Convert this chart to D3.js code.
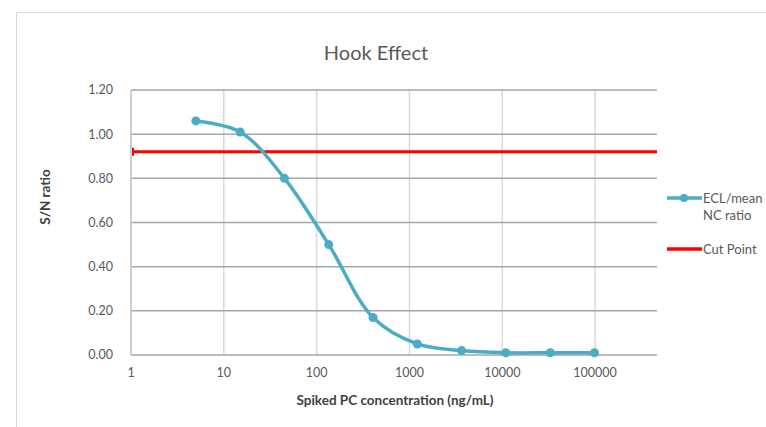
<!DOCTYPE html>
<html>
<head>
<meta charset="utf-8">
<script src="https://cdn.jsdelivr.net/npm/d3@7"></script>
<style>
  body { margin: 0; background: #fff; }
  text { font-family: Lato, 'Open Sans', sans-serif; }
</style>
</head>
<body>
<div id="chart"></div>
<script>
var concentrations = [5, 15, 45, 135, 405, 1215, 3645, 10935, 32805, 98415]
var ratios = [1.06, 1.01, 0.80, 0.50, 0.17, 0.05, 0.02, 0.01, 0.01, 0.01]
var cutPoint = 0.92
var xTicks = [1, 10, 100, 1000, 10000, 100000]
var yTicks = [0, 0.2, 0.4, 0.6, 0.8, 1.0, 1.2]

var blue = '#4bacc6'
var red = '#ff0000'

var W = 766, H = 427
var svg = d3.select('#chart').append('svg')
  .attr('width', W).attr('height', H)

// chart area border
svg.append('rect')
  .attr('x', 16.5).attr('y', 12.5)
  .attr('width', W).attr('height', H)
  .attr('fill', '#fff').attr('stroke', '#d9d9d9')

var plotL = 131, plotR = 657, plotT = 90, plotB = 355

var x = d3.scaleLog().domain([1, Math.pow(10, 5.667)]).range([plotL, plotR])
var y = d3.scaleLinear().domain([0, 1.2]).range([plotB, plotT])

// vertical grid
svg.append('g').selectAll('line').data(xTicks.slice(1))
  .join('line')
  .attr('x1', d => x(d)).attr('x2', d => x(d))
  .attr('y1', plotT).attr('y2', plotB)
  .attr('stroke', '#d9d9d9').attr('stroke-width', 1.5)

// horizontal grid
svg.append('g').selectAll('line').data(yTicks)
  .join('line')
  .attr('x1', plotL).attr('x2', plotR)
  .attr('y1', d => y(d)).attr('y2', d => y(d))
  .attr('stroke', '#a6a6a6').attr('stroke-width', 1.5)

// left axis line
svg.append('line')
  .attr('x1', plotL).attr('x2', plotL).attr('y1', plotT).attr('y2', plotB)
  .attr('stroke', '#bfbfbf').attr('stroke-width', 1.5)

// y tick labels
svg.append('g').selectAll('text').data(yTicks)
  .join('text')
  .attr('x', 113).attr('y', d => y(d)).attr('dy', '.35em')
  .attr('text-anchor', 'end')
  .attr('font-size', 12.5).attr('fill', '#595959')
  .text(d => d3.format('.2f')(d))

// x tick labels
svg.append('g').selectAll('text').data(xTicks)
  .join('text')
  .attr('x', d => x(d)).attr('y', 377)
  .attr('text-anchor', 'middle')
  .attr('font-size', 12.5).attr('fill', '#595959')
  .text(d => d)

// titles
svg.append('text')
  .attr('x', 376).attr('y', 60).attr('text-anchor', 'middle')
  .attr('font-size', 20).attr('fill', '#595959')
  .text('Hook Effect')

svg.append('text')
  .attr('x', 395).attr('y', 405).attr('text-anchor', 'middle')
  .attr('font-size', 13.5).attr('font-weight', 'bold').attr('fill', '#404040')
  .text('Spiked PC concentration (ng/mL)')

svg.append('text')
  .attr('transform', 'translate(50,' + 197 + ') rotate(-90)')
  .attr('text-anchor', 'middle')
  .attr('font-size', 13.5).attr('font-weight', 'bold').attr('fill', '#404040')
  .text('S/N ratio')

// cut point line
svg.append('line')
  .attr('x1', plotL + 1).attr('x2', plotR)
  .attr('y1', y(cutPoint)).attr('y2', y(cutPoint))
  .attr('stroke', red).attr('stroke-width', 3)
svg.append('line')
  .attr('x1', plotL + 2).attr('x2', plotL + 2)
  .attr('y1', y(cutPoint) - 4).attr('y2', y(cutPoint) + 4)
  .attr('stroke', red).attr('stroke-width', 2)

// data series
var data = concentrations.map((c, i) => ({c: c, v: ratios[i]}))
var line = d3.line()
  .x(d => x(d.c)).y(d => y(d.v))
  .curve(d3.curveCatmullRom.alpha(0.5))

svg.append('path')
  .datum(data)
  .attr('d', line)
  .attr('fill', 'none').attr('stroke', blue).attr('stroke-width', 3.5)

svg.append('g').selectAll('circle').data(data)
  .join('circle')
  .attr('cx', d => x(d.c)).attr('cy', d => y(d.v))
  .attr('r', 4.5).attr('fill', blue)

// legend
var leg = svg.append('g')
leg.append('line')
  .attr('x1', 667).attr('x2', 702).attr('y1', 198).attr('y2', 198)
  .attr('stroke', blue).attr('stroke-width', 3.5)
leg.append('circle')
  .attr('cx', 684).attr('cy', 198).attr('r', 4).attr('fill', blue)
leg.append('text')
  .attr('x', 703).attr('y', 203).attr('font-size', 13).attr('fill', '#595959')
  .text('ECL/mean')
leg.append('text')
  .attr('x', 703).attr('y', 220).attr('font-size', 13).attr('fill', '#595959')
  .text('NC ratio')
leg.append('line')
  .attr('x1', 667).attr('x2', 702).attr('y1', 249).attr('y2', 249)
  .attr('stroke', red).attr('stroke-width', 3.5)
leg.append('text')
  .attr('x', 703).attr('y', 254).attr('font-size', 13).attr('fill', '#595959')
  .text('Cut Point')
</script>
</body>
</html>
